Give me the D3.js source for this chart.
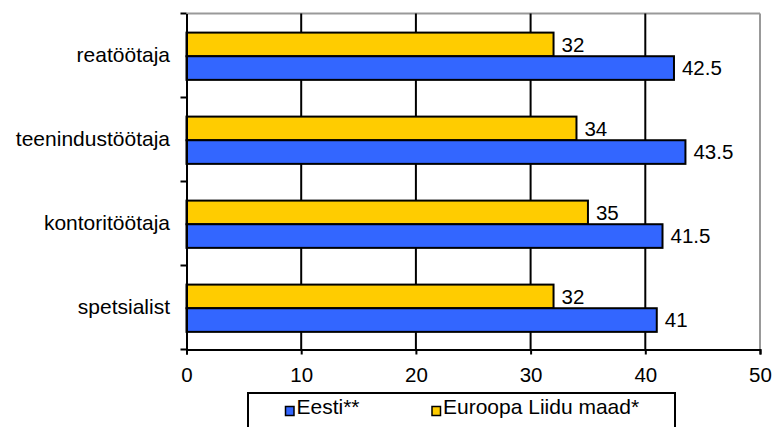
<!DOCTYPE html>
<html>
<head>
<meta charset="utf-8">
<script src="https://cdn.jsdelivr.net/npm/d3@7"></script>
<style>
  body { margin: 0; background: #fff; }
  svg { font-family: "Liberation Sans", Arial, sans-serif; }
</style>
</head>
<body>
<div id="chart"></div>
<script>
// Chart data
const categories = ["reatöötaja", "teenindustöötaja", "kontoritöötaja", "spetsialist"];
const eestiValues = [42.5, 43.5, 41.5, 41];
const euValues = [32, 34, 35, 32];
const xTicks = [0, 10, 20, 30, 40, 50];
const seriesNames = ["Eesti**", "Euroopa Liidu maad*"];
const seriesColors = ["#3366FF", "#FFCC00"];

const W = 777, H = 427;
const margin = { top: 13.5, right: 17, bottom: 77.5, left: 186.5 };
const width = W - margin.left - margin.right;
const height = H - margin.top - margin.bottom;
const fontFamily = "Liberation Sans, Arial, sans-serif";

const svg = d3.select("#chart")
    .append("svg")
    .attr("width", W)
    .attr("height", H);

const g = svg.append("g")
    .attr("transform", `translate(${margin.left},${margin.top})`);

// Scales
const xScale = d3.scaleLinear().domain([0, 50]).range([0, width]);
const yScale = d3.scaleBand().domain(categories).range([0, height]);
const inner = d3.scaleBand().domain(["eu", "ee"]).range([0, yScale.bandwidth()])
    .paddingInner(0).paddingOuter(0.777).align(0.52);

// Plot frame (top and right are gray)
g.append("line").attr("x1", 0).attr("x2", width).attr("y1", 0).attr("y2", 0)
    .attr("stroke", "#999").attr("stroke-width", 2);
g.append("line").attr("x1", width).attr("x2", width).attr("y1", 0).attr("y2", height)
    .attr("stroke", "#999").attr("stroke-width", 2);

// Vertical gridlines
g.selectAll(".grid")
    .data(xTicks.slice(1, -1))
    .enter()
    .append("line")
    .attr("class", "grid")
    .attr("x1", d => xScale(d)).attr("x2", d => xScale(d))
    .attr("y1", 0).attr("y2", height)
    .attr("stroke", "#000").attr("stroke-width", 2);

// Bars
const rows = categories.map((c, i) => ({ cat: c, ee: eestiValues[i], eu: euValues[i] }));

const group = g.selectAll(".row")
    .data(rows)
    .enter()
    .append("g")
    .attr("class", "row")
    .attr("transform", d => `translate(0,${yScale(d.cat)})`);

[["eu", seriesColors[1]], ["ee", seriesColors[0]]].forEach(([key, color]) => {
    group.append("rect")
        .attr("x", 0)
        .attr("y", inner(key))
        .attr("width", d => xScale(d[key]))
        .attr("height", inner.bandwidth())
        .attr("fill", color)
        .attr("stroke", "#000")
        .attr("stroke-width", 2);

    group.append("text")
        .attr("x", d => xScale(d[key]) + 8)
        .attr("y", inner(key) + inner.bandwidth() / 2)
        .attr("dy", "0.35em")
        .attr("font-size", 20.5)
        .attr("fill", "#000")
        .text(d => d[key]);
});

// Axes
const xAxis = g.append("g")
    .attr("transform", `translate(0,${height})`)
    .call(d3.axisBottom(xScale).tickValues(xTicks).tickSize(5).tickPadding(12.5));
xAxis.select(".domain").attr("stroke", "#000").attr("stroke-width", 2);
xAxis.selectAll(".tick line").attr("stroke", "#000").attr("stroke-width", 2);
xAxis.selectAll("text").attr("font-size", 20.5).attr("fill", "#000")
    .attr("font-family", fontFamily);

const yAxis = g.append("g")
    .call(d3.axisLeft(yScale).tickSize(0).tickPadding(16.5));
yAxis.select(".domain").attr("stroke", "#000").attr("stroke-width", 2);
yAxis.selectAll("text").attr("font-size", 21).attr("fill", "#000")
    .attr("dy", "0.3em")
    .attr("font-family", fontFamily);

// Category boundary ticks on left axis
const bounds = categories.map(c => yScale(c)).concat([height]);
g.selectAll(".ytick")
    .data(bounds)
    .enter()
    .append("line")
    .attr("x1", -6).attr("x2", 0)
    .attr("y1", d => d).attr("y2", d => d)
    .attr("stroke", "#000").attr("stroke-width", 2);

// Legend
const legend = svg.append("g").attr("transform", "translate(248,393)");
legend.append("rect")
    .attr("x", 0).attr("y", 0)
    .attr("width", 427).attr("height", 45)
    .attr("fill", "#fff").attr("stroke", "#000").attr("stroke-width", 2);

const legendX = [37.5, 184];
seriesNames.forEach((name, i) => {
    legend.append("rect")
        .attr("x", legendX[i]).attr("y", 13.5)
        .attr("width", 8.5).attr("height", 9)
        .attr("fill", seriesColors[i])
        .attr("stroke", "#000").attr("stroke-width", 1.5);
    legend.append("text")
        .attr("x", legendX[i] + 11)
        .attr("y", 20.5)
        .attr("font-size", 21)
        .attr("fill", "#000")
        .text(name);
});
</script>
</body>
</html>
